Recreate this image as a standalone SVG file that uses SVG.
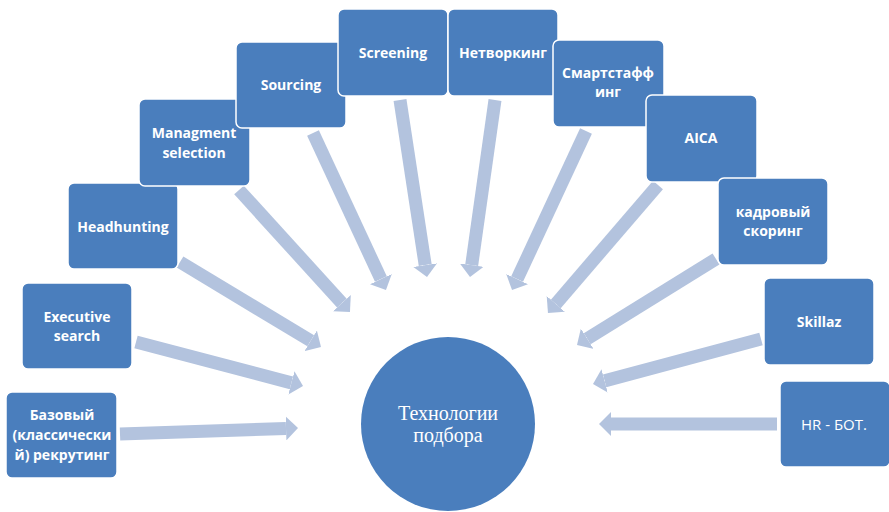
<svg xmlns="http://www.w3.org/2000/svg" width="889" height="512" viewBox="0 0 889 512">
<style>
.box{fill:#4a7ebd;stroke:#ffffff;stroke-width:1.5}
.t{font-family:"Open Sans","Noto Sans","Liberation Sans",sans-serif;font-weight:bold;font-size:14px;fill:#ffffff;text-anchor:middle}
.tr{font-family:"Open Sans","Noto Sans","Liberation Sans",sans-serif;font-size:15px;fill:#ffffff;text-anchor:middle}
.ts{font-family:"Liberation Serif","Times New Roman",serif;font-size:20px;fill:#ffffff;text-anchor:middle}
.ar{stroke:#b3c3de;stroke-width:13;fill:none;marker-end:url(#head)}
</style>
<defs>
<marker id="head" markerUnits="userSpaceOnUse" viewBox="0 0 12 24" markerWidth="12" markerHeight="24" refX="0" refY="12" orient="auto">
<path d="M0,0 L12,12 L0,24 Z" fill="#b3c3de"/>
</marker>
</defs>
<rect width="889" height="512" fill="#ffffff"/>
<g id="connectors">
<line class="ar" x1="120" y1="434" x2="286" y2="428.4"/>
<line class="ar" x1="136" y1="342" x2="291.4" y2="382.9"/>
<line class="ar" x1="180" y1="262" x2="310.7" y2="340.8"/>
<line class="ar" x1="239" y1="190" x2="341.9" y2="303.1"/>
<line class="ar" x1="313" y1="133" x2="380.9" y2="279.1"/>
<line class="ar" x1="400" y1="100" x2="425.2" y2="265.1"/>
<line class="ar" x1="495" y1="100" x2="471.7" y2="265.1"/>
<line class="ar" x1="586" y1="131" x2="517.1" y2="279.1"/>
<line class="ar" x1="658" y1="185" x2="555.8" y2="303.9"/>
<line class="ar" x1="716" y1="259" x2="587.2" y2="338.7"/>
<line class="ar" x1="761" y1="339" x2="604.6" y2="380.9"/>
<line class="ar" x1="777" y1="424" x2="611" y2="424"/>
</g>
<g id="center">
<circle cx="448" cy="424" r="87" fill="#4a7ebd"/>
<text class="ts" x="448" y="420">Технологии</text>
<text class="ts" x="448" y="442">подбора</text>
</g>
<g id="n1">
<rect class="box" x="6" y="392" width="111" height="86" rx="6"/>
<text class="t" x="62" y="420">Базовый</text>
<text class="t" x="62" y="440">(классически</text>
<text class="t" x="62" y="460">й) рекрутинг</text>
</g>
<g id="n2">
<rect class="box" x="22" y="283" width="110" height="86" rx="6"/>
<text class="t" x="77" y="322">Executive</text>
<text class="t" x="77" y="341">search</text>
</g>
<g id="n3">
<rect class="box" x="68" y="183" width="110" height="86" rx="6"/>
<text class="t" x="123" y="232">Headhunting</text>
</g>
<g id="n4">
<rect class="box" x="139" y="99" width="111" height="87" rx="6"/>
<text class="t" x="194" y="138">Managment</text>
<text class="t" x="194" y="158">selection</text>
</g>
<g id="n5">
<rect class="box" x="236" y="42" width="110" height="86" rx="6"/>
<text class="t" x="291" y="90">Sourcing</text>
</g>
<g id="n6">
<rect class="box" x="338" y="9" width="110" height="87" rx="6"/>
<text class="t" x="393" y="58">Screening</text>
</g>
<g id="n7">
<rect class="box" x="448" y="9" width="110" height="87" rx="6"/>
<text class="t" x="503" y="58">Нетворкинг</text>
</g>
<g id="n8">
<rect class="box" x="553" y="40" width="111" height="87" rx="6"/>
<text class="t" x="608" y="78">Смартстафф</text>
<text class="t" x="608" y="97">инг</text>
</g>
<g id="n9">
<rect class="box" x="646" y="95" width="111" height="87" rx="6"/>
<text class="t" x="701" y="143">AICA</text>
</g>
<g id="n10">
<rect class="box" x="718" y="178" width="110" height="87" rx="6"/>
<text class="t" x="773" y="217">кадровый</text>
<text class="t" x="773" y="236">скоринг</text>
</g>
<g id="n11">
<rect class="box" x="764" y="278" width="110" height="87" rx="6"/>
<text class="t" x="819" y="327">Skillaz</text>
</g>
<g id="n12">
<rect class="box" x="780" y="381" width="110" height="86" rx="6"/>
<text class="tr" x="834" y="430">HR - БОТ.</text>
</g>
</svg>
